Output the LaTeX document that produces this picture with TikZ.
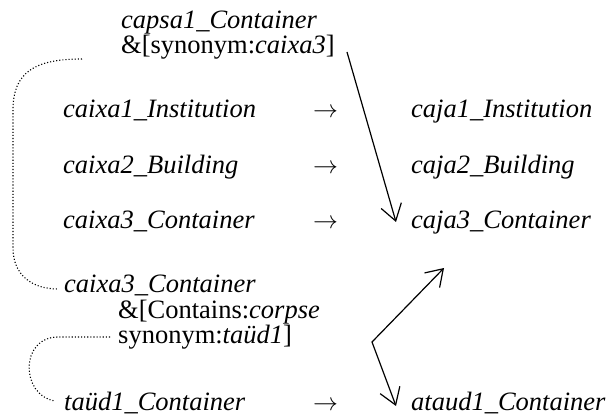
\documentclass[tikz,border=0pt]{standalone}
\usepackage{fontspec}
\setmainfont{Liberation Serif}
\usetikzlibrary{arrows.meta}
\begin{document}
\begin{tikzpicture}[x=1pt,y=-1pt,
  txt/.style={anchor=base west,inner sep=0pt,font=\fontsize{26.5}{28}\selectfont},
  conn/.style={line width=1.2pt},
  tipend/.style={-{Straight Barb[length=16pt,width=21pt,line width=1.2pt]}},
  tipboth/.style={{Straight Barb[length=16pt,width=21pt,line width=1.2pt]}-{Straight Barb[length=16pt,width=21pt,line width=1.2pt]}},
  dotline/.style={dotted,line width=1.1pt}]
\useasboundingbox (0,0) rectangle (608,414);
% texts
\node[txt] (capsa) at (121,29) {\textit{capsa1\_Container}};
\node[txt] (syn1) at (121,54) {\&[synonym:\textit{caixa3}]};
\node[txt] (l1) at (63,118) {\textit{caixa1\_Institution}};
\node[txt] (a1) at (313,118) {$\rightarrow$};
\node[txt] (r1) at (411,118) {\textit{caja1\_Institution}};
\node[txt] (l2) at (63,174) {\textit{caixa2\_Building}};
\node[txt] (a2) at (313,174) {$\rightarrow$};
\node[txt] (r2) at (411,174) {\textit{caja2\_Building}};
\node[txt] (l3) at (63,229) {\textit{caixa3\_Container}};
\node[txt] (a3) at (313,229) {$\rightarrow$};
\node[txt] (r3) at (411,229) {\textit{caja3\_Container}};
\node[txt] (l4) at (64,293) {\textit{caixa3\_Container}};
\node[txt] (cont) at (118,318) {\&[Contains:\textit{corpse}};
\node[txt] (syn2) at (118,343) {synonym:\textit{taüd1}]};
\node[txt] (l5) at (64,410) {\textit{taüd1\_Container}};
\node[txt] (a5) at (313,410) {$\rightarrow$};
\node[txt] (r5) at (411,410) {\textit{ataud1\_Container}};
% connector points
\coordinate (s1) at (347,52);
\coordinate (t1) at (396,222);
\coordinate (t2) at (444,268);
\coordinate (v) at (372,342);
\coordinate (t3) at (396,406);
\draw[conn,tipend] (s1) -- (t1);
\draw[conn,tipboth] (t2) -- (v) -- (t3);
% dotted curves
\coordinate (d1a) at (82,59);
\coordinate (d1b) at (58,289);
\draw[dotline] (d1a) .. controls (35,59) and (13,72) .. (13,110) -- (13,248)
  .. controls (13,275) and (32,289) .. (d1b);
\coordinate (d2a) at (110,337);
\coordinate (d2b) at (55,401);
\draw[dotline] (d2a) -- (58,337) .. controls (20,337) and (20,395) .. (d2b);
\end{tikzpicture}
\end{document}
